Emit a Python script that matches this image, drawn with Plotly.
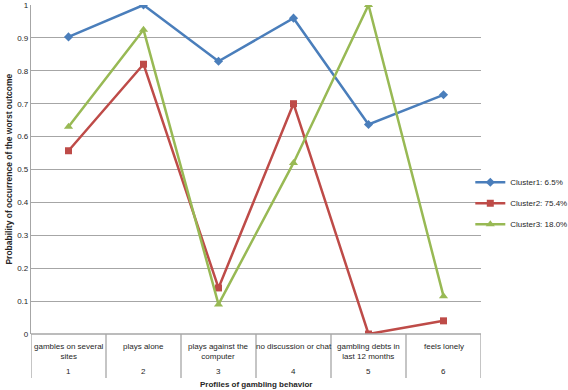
import plotly.graph_objects as go

categories = ["gambles on several<br>sites", "plays alone", "plays against the<br>computer",
              "no discussion or chat", "gambling debts in<br>last 12 months", "feels lonely"]
category_numbers = ["1", "2", "3", "4", "5", "6"]
cluster1 = [0.903, 1.0, 0.829, 0.96, 0.637, 0.727]
cluster2 = [0.557, 0.82, 0.14, 0.70, 0.0, 0.04]
cluster3 = [0.63, 0.925, 0.09, 0.52, 1.0, 0.115]
series_names = ["Cluster1: 6.5%", "Cluster2: 75.4%", "Cluster3: 18.0%"]
y_ticks = [0, 0.1, 0.2, 0.3, 0.4, 0.5, 0.6, 0.7, 0.8, 0.9, 1]

FONT = "Liberation Sans, Arial, sans-serif"
xpos = list(range(len(categories)))

fig = go.Figure()
styles = [("#4A7EBB", "diamond", 7), ("#BE4B48", "square", 7), ("#98B954", "triangle-up", 8)]
for k, (name, vals, (col, sym, sz)) in enumerate(zip(series_names, [cluster1, cluster2, cluster3], styles)):
    fig.add_trace(go.Scatter(x=xpos, y=vals, name=name, mode="lines+markers",
                             legendgroup=f"g{k}",
                             line=dict(color=col, width=2.5),
                             marker=dict(color=col, symbol=sym, size=sz)))

grid = "#A6A6A6"
fig.update_layout(
    width=568, height=390,
    margin=dict(l=31, r=87, t=5, b=56, autoexpand=False),
    paper_bgcolor="white", plot_bgcolor="white",
    font=dict(family=FONT, size=8, color="#262626"),
    showlegend=True,
    legend=dict(xref="container", yref="container", x=0.828, xanchor="left",
                y=0.57, yanchor="top", traceorder="grouped",
                font=dict(size=8), itemwidth=30, tracegroupgap=2,
                bgcolor="rgba(0,0,0,0)"),
    xaxis=dict(range=[-0.5, len(categories) - 0.5], showticklabels=False, showgrid=False,
               zeroline=False, showline=False, ticks="", automargin=False),
    yaxis=dict(range=[0, 1], tickvals=y_ticks, ticktext=[f"{v:g}" for v in y_ticks],
               showgrid=True, gridcolor=grid, gridwidth=1.3, zeroline=False,
               showline=True, linecolor=grid, linewidth=1.3, ticks="",
               tickfont=dict(size=8), ticklabeloverflow="allow",
               fixedrange=True, automargin=False),
)

# category separators below the axis
bottom = -0.134
for i in range(len(categories) + 1):
    fig.add_shape(type="line", xref="x", yref="paper", x0=i - 0.5, x1=i - 0.5,
                  y0=0, y1=bottom, line=dict(color=grid, width=1.3))
fig.add_shape(type="line", xref="x", yref="paper", x0=-0.5, x1=len(categories) - 0.5,
              y0=0, y1=0, line=dict(color=grid, width=1.3))

for i, (lab, num) in enumerate(zip(categories, category_numbers)):
    fig.add_annotation(x=i, y=-0.017, xref="x", yref="paper", text=lab, showarrow=False,
                       yanchor="top", xanchor="center", font=dict(size=8), align="center")
    fig.add_annotation(x=i, y=-0.1155, xref="x", yref="paper", text=num, showarrow=False,
                       yanchor="middle", xanchor="center", font=dict(size=8))

fig.add_annotation(x=0.5, y=-0.155, xref="paper", yref="paper",
                   text="<b>Profiles of gambling behavior</b>", showarrow=False,
                   yanchor="middle", xanchor="center", font=dict(size=8))
fig.add_annotation(x=-0.051, y=0.5, xref="paper", yref="paper",
                   text="<b>Probability of occurrence of the worst outcome</b>", showarrow=False,
                   textangle=-90, yanchor="middle", xanchor="center", font=dict(size=8.5))

fig.write_html("out.html", config={"displayModeBar": False},
               post_script="document.body.style.margin='0';document.body.style.padding='0';")
